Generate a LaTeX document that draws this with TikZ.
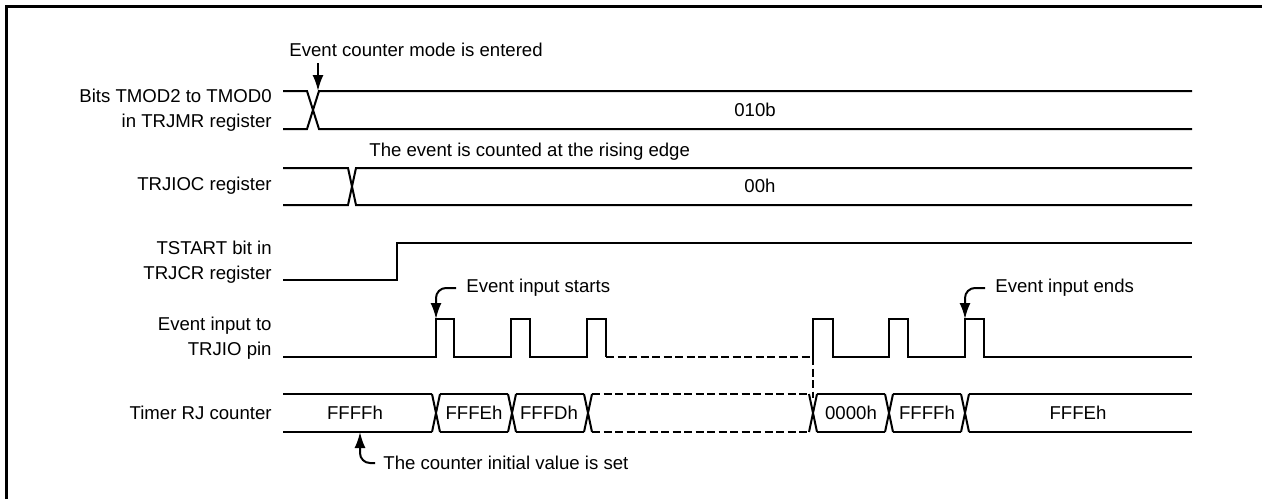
\documentclass[tikz,border=0pt]{standalone}
\usepackage{fontspec}
\setmainfont{Liberation Sans}
\usetikzlibrary{arrows.meta}

\begin{document}
\begin{tikzpicture}[x=0.5pt,y=-0.5pt,
    every node/.style={font=\fontsize{9.3}{12.5}\selectfont,inner sep=0pt},
    sig/.style={line width=1pt},
    gap/.style={line width=1pt,dash pattern=on 4pt off 1.75pt},
    note/.style={anchor=west},
    lbl/.style={anchor=east,align=right},
    arr/.style={line width=1pt,-{Latex[length=8pt,width=5.5pt]},
                rounded corners=5pt}]
  \useasboundingbox (0,0) rectangle (1262,499);
  \draw[line width=1.5pt] (6,499) -- (6,6) -- (1262,6);

  % signal names
  \node[lbl] (tmod) at (272,110) {Bits TMOD2 to TMOD0\\in TRJMR register};
  \node[lbl] (ioc) at (272,186) {TRJIOC register};
  \node[lbl] (tstart) at (272,262) {TSTART bit in\\TRJCR register};
  \node[lbl] (evin) at (272,338) {Event input to\\TRJIO pin};
  \node[lbl] (cnt) at (272,413) {Timer RJ counter};

  % TMOD2..TMOD0
  \draw[sig] (283,91) -- (307,91) -- (319,129) -- (1192,129)
             (283,129) -- (307,129) -- (319,91) -- (1192,91);
  \node (modeval) at (755,110) {010b};
  % TRJIOC
  \draw[sig] (283,168) -- (348,168) -- (356,205) -- (1192,205)
             (283,205) -- (348,205) -- (356,168) -- (1192,168);
  \node (iocval) at (760,186) {00h};
  % TSTART
  \draw[sig] (283,280) -| (397,243) -- (1192,243);

  % event input
  \draw[sig] (283,357) -| (436,319) -| (454,357) -| (511,319)
             -| (530,357) -| (587,319) -| (606,357);
  \draw[gap] (606,357) -- (813,357) -- (813,398);
  \draw[sig] (813,357) -- (813,319) -| (833,357) -| (889,319)
             -| (908,357) -| (965,319) -| (984,357) -- (1192,357);

  % counter
  \foreach \c in {436,512,588,813,889,965}
    \draw[sig] (\c-4,394) -- (\c+4,432) (\c-4,432) -- (\c+4,394);
  \foreach \a/\b in {283/432,440/508,516/584,817/885,893/961,969/1192}
    \draw[sig] (\a,394) -- (\b,394) (\a,432) -- (\b,432);
  \draw[gap] (592,394) -- (809,394) (592,432) -- (809,432);
  \foreach \x/\v [count=\i] in {355/FFFFh,474/FFFEh,549/FFFDh,
                                851/0000h,927/FFFFh,1078/FFFEh}
    \node (cnt\i) at (\x,413) {\v};

  % notes
  \coordinate (modeIn) at (318,91);
  \coordinate (evStart) at (436,319);
  \coordinate (evEnd) at (965,319);
  \coordinate (cntInit) at (360,432);
  \node[note] (mode) at (289,50) {Event counter mode is entered};
  \node[note] (rise) at (369,152) {The event is counted at the rising edge};
  \node[note] (starts) at (466,288) {Event input starts};
  \node[note] (ends) at (995,288) {Event input ends};
  \node[note] (init) at (383,463) {The counter initial value is set};
  \draw[arr] ([yshift=-3pt]mode.south -| modeIn) -- (modeIn);
  \draw[arr] ([xshift=-5pt]starts.west) -| (evStart);
  \draw[arr] ([xshift=-5pt]ends.west) -| (evEnd);
  \draw[arr] ([xshift=-4pt]init.west) -| (cntInit);
\end{tikzpicture}
\end{document}
